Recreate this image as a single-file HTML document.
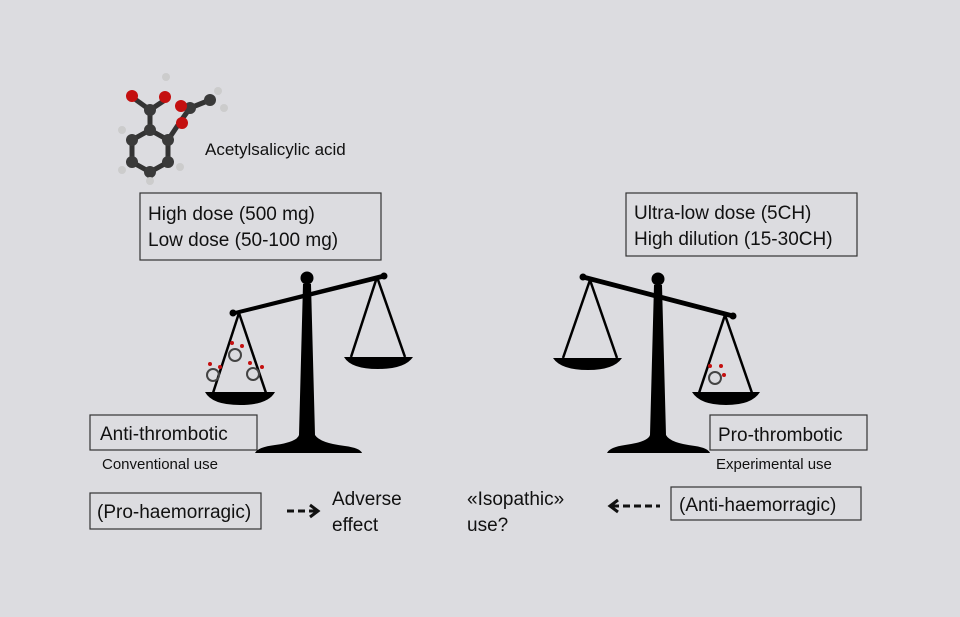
<!DOCTYPE html>
<html><head><meta charset="utf-8"><style>
body{margin:0;width:960px;height:617px;background:#dcdce0;overflow:hidden}
svg{display:block}
text{font-family:"Liberation Sans",sans-serif;fill:#111}
</style></head><body>
<svg width="960" height="617" viewBox="0 0 960 617">
<!-- molecule -->
<g stroke="#333" stroke-width="5">
<polygon points="150,130 168,140 168,162 150,172 132,162 132,140" fill="none"/>
<line x1="150" y1="130" x2="150" y2="110"/><line x1="150" y1="110" x2="132" y2="97"/><line x1="150" y1="110" x2="165" y2="100"/>
<line x1="168" y1="140" x2="180" y2="122"/><line x1="180" y1="122" x2="190" y2="108"/><line x1="190" y1="108" x2="210" y2="100"/>
</g>
<g fill="#3a3a3a"><circle cx="150" cy="130" r="6"/><circle cx="168" cy="140" r="6"/><circle cx="168" cy="162" r="6"/><circle cx="150" cy="172" r="6"/><circle cx="132" cy="162" r="6"/><circle cx="132" cy="140" r="6"/><circle cx="150" cy="110" r="6"/><circle cx="190" cy="108" r="6"/><circle cx="210" cy="100" r="6"/></g>
<g fill="#c41010"><circle cx="132" cy="96" r="6"/><circle cx="165" cy="97" r="6"/><circle cx="181" cy="106" r="6"/><circle cx="182" cy="123" r="6"/></g>
<g fill="#ccc"><circle cx="166" cy="77" r="4"/><circle cx="122" cy="130" r="4"/><circle cx="122" cy="170" r="4"/><circle cx="150" cy="181" r="4"/><circle cx="180" cy="167" r="4"/><circle cx="218" cy="91" r="4"/><circle cx="224" cy="108" r="4"/></g>
<text x="205" y="155" font-size="17">Acetylsalicylic acid</text>

<!-- boxes -->
<g fill="none" stroke="#333" stroke-width="1.2">
<rect x="140" y="193" width="241" height="67"/>
<rect x="626" y="193" width="231" height="63"/>
<rect x="90" y="415" width="167" height="35"/>
<rect x="710" y="415" width="157" height="35"/>
<rect x="90" y="493" width="171" height="36"/>
<rect x="671" y="487" width="190" height="33"/>
</g>
<g font-size="19">
<text x="148" y="220">High dose (500 mg)</text>
<text x="148" y="246">Low dose (50-100 mg)</text>
<text x="634" y="219">Ultra-low dose (5CH)</text>
<text x="634" y="245">High dilution (15-30CH)</text>
<text x="100" y="440">Anti-thrombotic</text>
<text x="718" y="441">Pro-thrombotic</text>
<text x="97" y="518">(Pro-haemorragic)</text>
<text x="679" y="511">(Anti-haemorragic)</text>
<text x="332" y="505">Adverse</text>
<text x="332" y="531">effect</text>
<text x="467" y="505">«Isopathic»</text>
<text x="467" y="531">use?</text>
</g>
<text x="102" y="469" font-size="15">Conventional use</text>
<text x="716" y="469" font-size="15">Experimental use</text>
<!-- arrows -->
<g stroke="#111" stroke-width="3" fill="none">
<line x1="287" y1="511" x2="316" y2="511" stroke-dasharray="7,4"/>
<polyline points="310,505 318,511 310,517"/>
<line x1="612" y1="506" x2="660" y2="506" stroke-dasharray="7,4"/>
<polyline points="618,500 610,506 618,512"/>
</g>

<!-- left scale -->
<g fill="#000" stroke="#000">
<circle cx="307" cy="278" r="6"/>
<polygon points="233,312 384,274 384,278 233,315" stroke-width="1"/>
<circle cx="233" cy="313" r="3"/><circle cx="384" cy="276" r="3"/>
<path d="M303,284 L311,284 L315,435 Q320,443 345,446 Q360,448 362,453 L255,453 Q258,447 275,445 Q297,442 299,435 Z" stroke="none"/>
<g stroke-width="2.5" fill="none"><line x1="239" y1="313" x2="213" y2="393"/><line x1="239" y1="313" x2="266" y2="393"/>
<line x1="377" y1="277" x2="351" y2="357"/><line x1="377" y1="277" x2="405" y2="357"/></g>
<path d="M205,392 L275,392 Q268,405 240,405 Q212,405 205,392Z" stroke="none"/>
<path d="M344,357 L413,357 Q405,369 378,369 Q351,369 344,357Z" stroke="none"/>
</g>
<!-- small molecules left pan -->
<g stroke="#444" stroke-width="2" fill="none">
<circle cx="213" cy="375" r="6"/><circle cx="235" cy="355" r="6"/><circle cx="253" cy="374" r="6"/>
</g>
<g fill="#c41010"><circle cx="210" cy="364" r="2"/><circle cx="220" cy="367" r="2"/><circle cx="232" cy="343" r="2"/><circle cx="242" cy="346" r="2"/><circle cx="250" cy="363" r="2"/><circle cx="262" cy="367" r="2"/></g>

<!-- right scale -->
<g fill="#000" stroke="#000">
<circle cx="658" cy="279" r="6"/>
<polygon points="583,275 733,314 733,318 583,279" stroke-width="1"/>
<circle cx="583" cy="277" r="3"/><circle cx="733" cy="316" r="3"/>
<path d="M654,285 L662,285 L666,435 Q670,443 695,446 Q708,448 710,453 L607,453 Q610,447 625,445 Q648,442 650,435 Z" stroke="none"/>
<g stroke-width="2.5" fill="none"><line x1="590" y1="280" x2="563" y2="358"/><line x1="590" y1="280" x2="617" y2="358"/>
<line x1="725" y1="315" x2="699" y2="393"/><line x1="725" y1="315" x2="752" y2="393"/></g>
<path d="M553,358 L622,358 Q614,370 588,370 Q561,370 553,358Z" stroke="none"/>
<path d="M692,392 L760,392 Q752,405 726,405 Q700,405 692,392Z" stroke="none"/>
</g>
<circle cx="715" cy="378" r="6" stroke="#444" stroke-width="2" fill="none"/>
<g fill="#c41010"><circle cx="710" cy="366" r="2"/><circle cx="721" cy="366" r="2"/><circle cx="724" cy="375" r="2"/></g>
</svg>
</body></html>
